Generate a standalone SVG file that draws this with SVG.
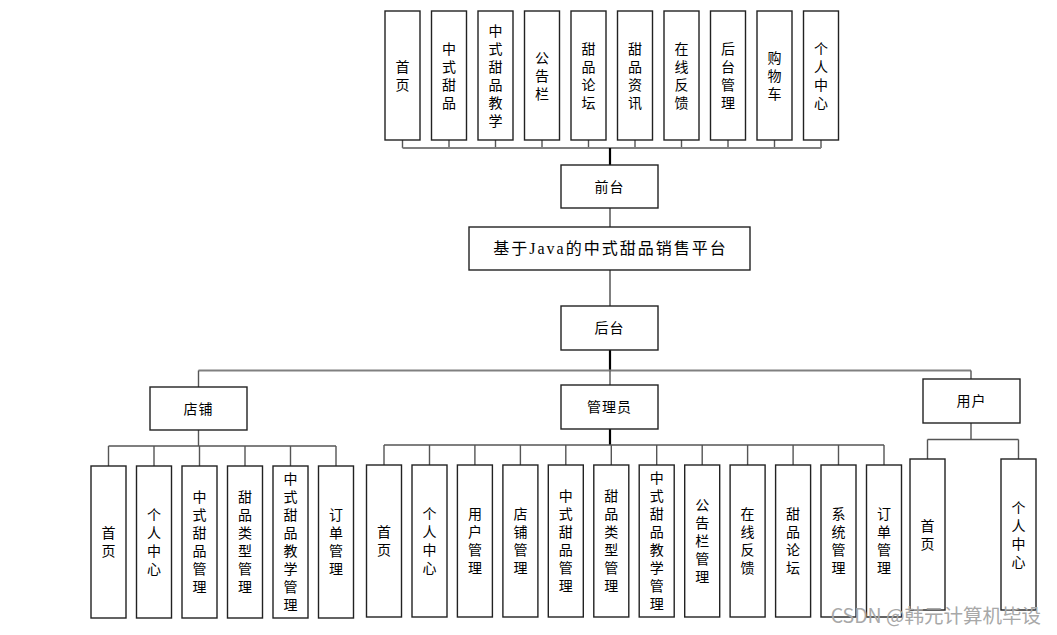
<svg xmlns="http://www.w3.org/2000/svg" width="1057" height="635" viewBox="0 0 1057 635">
<style>
.box{fill:#fff;stroke:#222;stroke-width:1.4}
.t{font-family:"Noto Sans CJK SC","Liberation Sans",sans-serif;font-size:14px;fill:#000;text-anchor:middle}
.title{font-family:"Liberation Serif","Noto Sans CJK SC",serif;font-size:16px;fill:#000;text-anchor:middle;letter-spacing:2px}
.ln{fill:none;stroke:#555;stroke-width:1.4}
.gl{fill:none;stroke:#808080;stroke-width:2}
.tk{fill:none;stroke:#000;stroke-width:2.2}
.wm{font-family:"Noto Sans CJK SC","Liberation Sans",sans-serif;font-size:19.5px;fill:#a8a8a8;text-anchor:end}
</style>
<rect width="1057" height="635" fill="#fff"/>
<g id="connectors">
<path class="ln" d="M402.5,140V148M449,140V148M495.5,140V148M542,140V148M588.5,140V148M635,140V148M681.5,140V148M728,140V148M774.5,140V148M821,140V148"/>
<path class="gl" d="M402.5,148H821"/>
<path class="tk" d="M610,148V165"/>
<path class="gl" d="M610,208V227M610,270V306"/>
<path class="tk" d="M610,350V370.5"/>
<path class="gl" d="M198.5,370.5H971"/>
<path class="ln" d="M198.5,370.5V387M610,370.5V385M971,370.5V379"/>
<path class="ln" d="M198.5,430V446M108.5,446H336M108.5,446V466M154,446V466M199.5,446V466M245,446V466M290.5,446V466M336,446V466"/>
<path class="tk" d="M610,429V445"/>
<path class="ln" d="M384,445H884M384,445V465M429.5,445V465M474.9,445V465M520.4,445V465M565.8,445V465M611.3,445V465M656.7,445V465M702.2,445V465M747.6,445V465M793.1,445V465M838.5,445V465M884,445V465"/>
<path class="ln" d="M971,423V439.5M927.5,439.5H1018.5M927.5,439.5V459M1018.5,439.5V459"/>
</g>
<g id="main"><rect class="box" x="469" y="227" width="281" height="43"/><text class="title" x="610.5" y="254">基于Java的中式甜品销售平台</text></g>
<g id="qiantai"><rect class="box" x="561" y="165" width="97" height="43"/><text class="t" x="609.5" y="191.5" letter-spacing="1">前台</text></g>
<g id="houtai"><rect class="box" x="561" y="306" width="97" height="44"/><text class="t" x="609.5" y="333" letter-spacing="1">后台</text></g>
<g id="dianpu"><rect class="box" x="150" y="387" width="97" height="43"/><text class="t" x="198.5" y="413.5" letter-spacing="1">店铺</text></g>
<g id="guanliyuan"><rect class="box" x="561" y="385" width="97" height="44"/><text class="t" x="609.5" y="412" letter-spacing="1">管理员</text></g>
<g id="yonghu"><rect class="box" x="923" y="379" width="97" height="44"/><text class="t" x="971.5" y="406" letter-spacing="1">用户</text></g>

<g id="f1"><rect class="box" x="385" y="11" width="35" height="129"/><text class="t"><tspan x="402.5" y="71.5">首</tspan><tspan x="402.5" dy="18">页</tspan></text></g>
<g id="f2"><rect class="box" x="431.5" y="11" width="35" height="129"/><text class="t"><tspan x="449" y="53.5">中</tspan><tspan x="449" dy="18">式</tspan><tspan x="449" dy="18">甜</tspan><tspan x="449" dy="18">品</tspan></text></g>
<g id="f3"><rect class="box" x="478" y="11" width="35" height="129"/><text class="t"><tspan x="495.5" y="35.5">中</tspan><tspan x="495.5" dy="18">式</tspan><tspan x="495.5" dy="18">甜</tspan><tspan x="495.5" dy="18">品</tspan><tspan x="495.5" dy="18">教</tspan><tspan x="495.5" dy="18">学</tspan></text></g>
<g id="f4"><rect class="box" x="524.5" y="11" width="35" height="129"/><text class="t"><tspan x="542" y="62.5">公</tspan><tspan x="542" dy="18">告</tspan><tspan x="542" dy="18">栏</tspan></text></g>
<g id="f5"><rect class="box" x="571" y="11" width="35" height="129"/><text class="t"><tspan x="588.5" y="53.5">甜</tspan><tspan x="588.5" dy="18">品</tspan><tspan x="588.5" dy="18">论</tspan><tspan x="588.5" dy="18">坛</tspan></text></g>
<g id="f6"><rect class="box" x="617.5" y="11" width="35" height="129"/><text class="t"><tspan x="635" y="53.5">甜</tspan><tspan x="635" dy="18">品</tspan><tspan x="635" dy="18">资</tspan><tspan x="635" dy="18">讯</tspan></text></g>
<g id="f7"><rect class="box" x="664" y="11" width="35" height="129"/><text class="t"><tspan x="681.5" y="53.5">在</tspan><tspan x="681.5" dy="18">线</tspan><tspan x="681.5" dy="18">反</tspan><tspan x="681.5" dy="18">馈</tspan></text></g>
<g id="f8"><rect class="box" x="710.5" y="11" width="35" height="129"/><text class="t"><tspan x="728" y="53.5">后</tspan><tspan x="728" dy="18">台</tspan><tspan x="728" dy="18">管</tspan><tspan x="728" dy="18">理</tspan></text></g>
<g id="f9"><rect class="box" x="757" y="11" width="35" height="129"/><text class="t"><tspan x="774.5" y="62.5">购</tspan><tspan x="774.5" dy="18">物</tspan><tspan x="774.5" dy="18">车</tspan></text></g>
<g id="f10"><rect class="box" x="803.5" y="11" width="35" height="129"/><text class="t"><tspan x="821" y="53.5">个</tspan><tspan x="821" dy="18">人</tspan><tspan x="821" dy="18">中</tspan><tspan x="821" dy="18">心</tspan></text></g>

<g id="s1"><rect class="box" x="91" y="466" width="35" height="152"/><text class="t"><tspan x="108.5" y="538">首</tspan><tspan x="108.5" dy="18">页</tspan></text></g>
<g id="s2"><rect class="box" x="136.5" y="466" width="35" height="152"/><text class="t"><tspan x="154" y="520">个</tspan><tspan x="154" dy="18">人</tspan><tspan x="154" dy="18">中</tspan><tspan x="154" dy="18">心</tspan></text></g>
<g id="s3"><rect class="box" x="182" y="466" width="35" height="152"/><text class="t"><tspan x="199.5" y="502">中</tspan><tspan x="199.5" dy="18">式</tspan><tspan x="199.5" dy="18">甜</tspan><tspan x="199.5" dy="18">品</tspan><tspan x="199.5" dy="18">管</tspan><tspan x="199.5" dy="18">理</tspan></text></g>
<g id="s4"><rect class="box" x="227.5" y="466" width="35" height="152"/><text class="t"><tspan x="245" y="502">甜</tspan><tspan x="245" dy="18">品</tspan><tspan x="245" dy="18">类</tspan><tspan x="245" dy="18">型</tspan><tspan x="245" dy="18">管</tspan><tspan x="245" dy="18">理</tspan></text></g>
<g id="s5"><rect class="box" x="273" y="466" width="35" height="152"/><text class="t"><tspan x="290.5" y="484">中</tspan><tspan x="290.5" dy="18">式</tspan><tspan x="290.5" dy="18">甜</tspan><tspan x="290.5" dy="18">品</tspan><tspan x="290.5" dy="18">教</tspan><tspan x="290.5" dy="18">学</tspan><tspan x="290.5" dy="18">管</tspan><tspan x="290.5" dy="18">理</tspan></text></g>
<g id="s6"><rect class="box" x="318.5" y="466" width="35" height="152"/><text class="t"><tspan x="336" y="520">订</tspan><tspan x="336" dy="18">单</tspan><tspan x="336" dy="18">管</tspan><tspan x="336" dy="18">理</tspan></text></g>

<g id="a1"><rect class="box" x="366.5" y="465" width="35" height="152"/><text class="t"><tspan x="384" y="537">首</tspan><tspan x="384" dy="18">页</tspan></text></g>
<g id="a2"><rect class="box" x="412" y="465" width="35" height="152"/><text class="t"><tspan x="429.5" y="519">个</tspan><tspan x="429.5" dy="18">人</tspan><tspan x="429.5" dy="18">中</tspan><tspan x="429.5" dy="18">心</tspan></text></g>
<g id="a3"><rect class="box" x="457.4" y="465" width="35" height="152"/><text class="t"><tspan x="474.9" y="519">用</tspan><tspan x="474.9" dy="18">户</tspan><tspan x="474.9" dy="18">管</tspan><tspan x="474.9" dy="18">理</tspan></text></g>
<g id="a4"><rect class="box" x="502.9" y="465" width="35" height="152"/><text class="t"><tspan x="520.4" y="519">店</tspan><tspan x="520.4" dy="18">铺</tspan><tspan x="520.4" dy="18">管</tspan><tspan x="520.4" dy="18">理</tspan></text></g>
<g id="a5"><rect class="box" x="548.3" y="465" width="35" height="152"/><text class="t"><tspan x="565.8" y="501">中</tspan><tspan x="565.8" dy="18">式</tspan><tspan x="565.8" dy="18">甜</tspan><tspan x="565.8" dy="18">品</tspan><tspan x="565.8" dy="18">管</tspan><tspan x="565.8" dy="18">理</tspan></text></g>
<g id="a6"><rect class="box" x="593.8" y="465" width="35" height="152"/><text class="t"><tspan x="611.3" y="501">甜</tspan><tspan x="611.3" dy="18">品</tspan><tspan x="611.3" dy="18">类</tspan><tspan x="611.3" dy="18">型</tspan><tspan x="611.3" dy="18">管</tspan><tspan x="611.3" dy="18">理</tspan></text></g>
<g id="a7"><rect class="box" x="639.2" y="465" width="35" height="152"/><text class="t"><tspan x="656.7" y="483">中</tspan><tspan x="656.7" dy="18">式</tspan><tspan x="656.7" dy="18">甜</tspan><tspan x="656.7" dy="18">品</tspan><tspan x="656.7" dy="18">教</tspan><tspan x="656.7" dy="18">学</tspan><tspan x="656.7" dy="18">管</tspan><tspan x="656.7" dy="18">理</tspan></text></g>
<g id="a8"><rect class="box" x="684.7" y="465" width="35" height="152"/><text class="t"><tspan x="702.2" y="510">公</tspan><tspan x="702.2" dy="18">告</tspan><tspan x="702.2" dy="18">栏</tspan><tspan x="702.2" dy="18">管</tspan><tspan x="702.2" dy="18">理</tspan></text></g>
<g id="a9"><rect class="box" x="730.1" y="465" width="35" height="152"/><text class="t"><tspan x="747.6" y="519">在</tspan><tspan x="747.6" dy="18">线</tspan><tspan x="747.6" dy="18">反</tspan><tspan x="747.6" dy="18">馈</tspan></text></g>
<g id="a10"><rect class="box" x="775.6" y="465" width="35" height="152"/><text class="t"><tspan x="793.1" y="519">甜</tspan><tspan x="793.1" dy="18">品</tspan><tspan x="793.1" dy="18">论</tspan><tspan x="793.1" dy="18">坛</tspan></text></g>
<g id="a11"><rect class="box" x="821" y="465" width="35" height="152"/><text class="t"><tspan x="838.5" y="519">系</tspan><tspan x="838.5" dy="18">统</tspan><tspan x="838.5" dy="18">管</tspan><tspan x="838.5" dy="18">理</tspan></text></g>
<g id="a12"><rect class="box" x="866.5" y="465" width="35" height="152"/><text class="t"><tspan x="884" y="519">订</tspan><tspan x="884" dy="18">单</tspan><tspan x="884" dy="18">管</tspan><tspan x="884" dy="18">理</tspan></text></g>

<g id="u1"><rect class="box" x="910" y="459" width="35" height="151"/><text class="t"><tspan x="927.5" y="530.5">首</tspan><tspan x="927.5" dy="18">页</tspan></text></g>
<g id="u2"><rect class="box" x="1001" y="459" width="35" height="151"/><text class="t"><tspan x="1018.5" y="512.5">个</tspan><tspan x="1018.5" dy="18">人</tspan><tspan x="1018.5" dy="18">中</tspan><tspan x="1018.5" dy="18">心</tspan></text></g>

<text class="wm" x="1041" y="623">CSDN @韩元计算机毕设</text>
</svg>
